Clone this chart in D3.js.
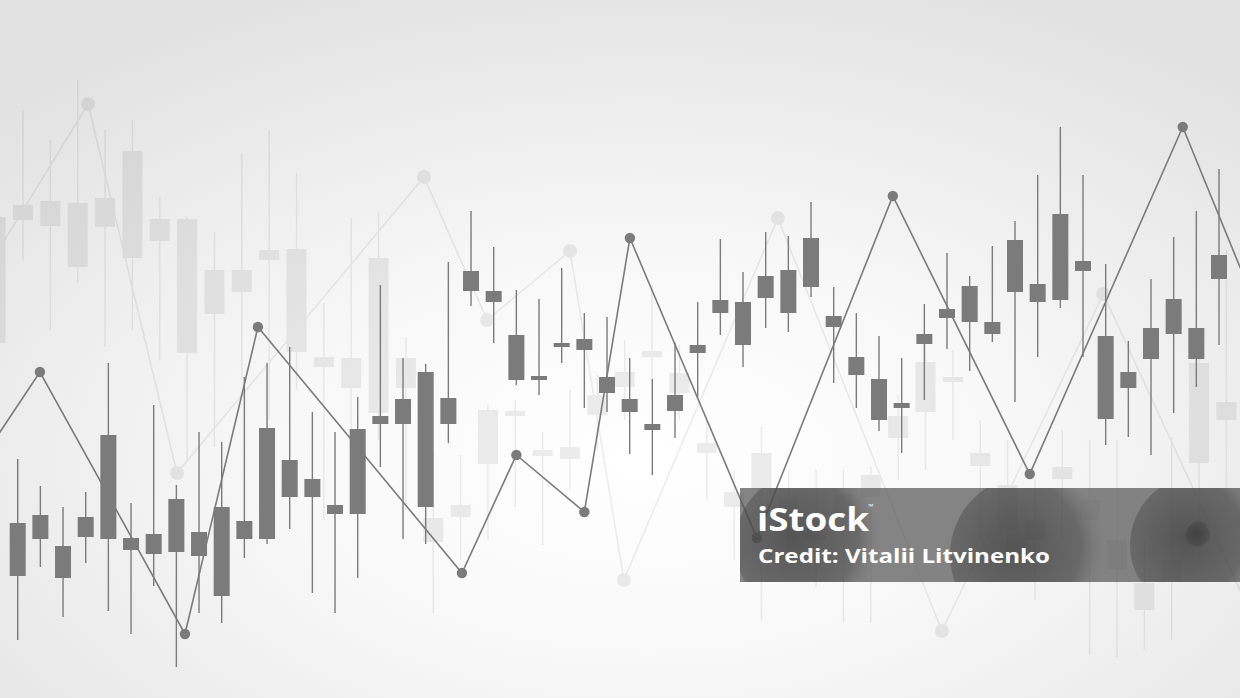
<!DOCTYPE html>
<html>
<head>
<meta charset="utf-8">
<script src="https://cdn.jsdelivr.net/npm/d3@7"></script>
<style>
  html, body { margin: 0; padding: 0; background: #f2f2f2; overflow: hidden; }
  svg { display: block; }
</style>
</head>
<body>
<svg id="chart" width="1240" height="698"></svg>
<script>
// ---------- front candles (price units) ----------
const fgOpen  = [35.4, 37.0, 30.8, 36.6, 53.0, 32.4, 33.2, 40.2, 33.6, 38.6, 35.8, 54.4, 48.0, 44.2, 39.0, 54.2, 56.8, 60.2,
                 65.6, 60.4, 85.8, 81.8, 73.0, 64.8, 71.4, 72.2, 64.6, 60.2, 55.2, 61.0, 71.0, 80.0, 79.6, 84.8, 86.0, 92.4,
                 76.8, 68.6, 64.2, 59.4, 73.2, 78.2, 82.8, 75.6, 92.0, 83.2, 97.2, 87.8, 72.8, 65.6, 74.4, 80.2, 74.4, 89.0];
const fgClose = [24.8, 32.2, 24.4, 32.6, 32.2, 30.0, 29.2, 29.6, 28.8, 20.8, 32.2, 32.2, 40.6, 40.6, 37.2, 37.2, 55.2, 55.2,
                 38.6, 55.2, 81.8, 79.6, 64.0, 64.0, 70.6, 70.0, 61.4, 57.6, 54.0, 57.8, 69.4, 77.4, 71.0, 80.4, 77.4, 82.6,
                 74.6, 65.0, 56.0, 58.4, 71.2, 76.4, 75.6, 73.2, 81.6, 79.6, 80.0, 85.8, 56.2, 62.4, 68.2, 73.2, 68.2, 84.2];
const fgHigh  = [48.2, 42.8, 38.6, 41.6, 67.4, 39.4, 59.0, 43.0, 53.6, 51.6, 64.6, 67.4, 70.6, 57.6, 53.6, 60.6, 83.0, 68.4,
                 67.2, 87.6, 97.8, 90.6, 82.0, 80.2, 86.4, 77.4, 76.6, 68.4, 64.2, 71.4, 79.6, 92.2, 85.6, 93.6, 92.8, 99.6,
                 82.6, 77.4, 72.8, 68.4, 79.2, 89.4, 84.8, 90.8, 95.8, 105.0, 114.6, 105.0, 87.2, 71.8, 84.2, 92.6, 97.8, 106.2];
const fgLow   = [12.0, 26.6, 16.6, 27.4, 17.8, 13.2, 22.8, 6.6, 17.4, 15.4, 28.4, 31.2, 34.2, 21.4, 17.4, 24.4, 46.6, 32.2,
                 31.2, 51.4, 78.8, 71.4, 63.0, 61.0, 67.4, 58.4, 57.6, 49.2, 45.0, 52.4, 60.6, 73.0, 66.6, 74.4, 73.6, 80.6,
                 63.4, 58.4, 53.8, 49.4, 60.0, 70.2, 65.8, 71.6, 59.6, 68.6, 78.4, 68.6, 51.0, 52.6, 49.0, 57.4, 62.6, 71.0];

// front zigzag line (position in candle steps, price)
const fgLineT = [-1.66, 0.98, 7.38, 10.6, 19.6, 22.0, 25.0, 27.01, 32.61, 38.61, 44.65, 51.4, 54.5];
const fgLineP = [47.6, 65.6, 13.2, 74.6, 25.4, 49.0, 37.6, 92.4, 32.4, 100.8, 45.2, 114.6, 80.2];

// ---------- faded back candles ----------
const bgOpen  = [96.6, 99.0, 99.8, 99.4, 100.4, 109.8, 96.2, 96.2, 86.0, 86.0, 90.0, 90.2, 68.6, 68.4, 88.4, 68.4, 36.4, 39.0,
                 58.0, 57.8, 50.0, 50.6, 61.0, 65.6, 69.8, 65.4, 51.4, 41.6, 49.4, 40.0, 36.0, 41.0, 45.0, 56.8, 67.6, 64.6,
                 49.4, 43.0, 36.0, 46.6, 40.0, 32.0, 23.4, 28.0, 67.4, 59.6];
const bgClose = [71.4, 96.0, 94.8, 86.6, 94.6, 88.4, 91.8, 69.4, 77.2, 81.6, 88.0, 69.6, 66.6, 62.4, 57.4, 62.4, 31.6, 36.6,
                 47.2, 56.8, 48.8, 48.2, 57.0, 62.6, 68.6, 61.4, 49.4, 38.6, 42.0, 36.0, 32.0, 37.0, 40.6, 52.4, 57.6, 63.6,
                 46.8, 34.0, 32.0, 44.2, 36.0, 26.0, 18.0, 24.0, 47.4, 56.0];
const bgHigh  = [110.0, 118.0, 112.0, 124.0, 114.0, 116.0, 100.6, 96.6, 93.6, 109.4, 114.0, 105.4, 79.4, 96.4, 97.6, 72.6, 49.4, 49.0,
                 59.2, 60.0, 53.6, 62.0, 65.0, 72.0, 83.0, 71.0, 56.0, 46.0, 54.6, 46.0, 46.0, 46.0, 46.6, 61.0, 72.0, 70.0,
                 56.0, 52.0, 44.0, 54.0, 52.0, 52.0, 32.0, 52.6, 72.0, 90.0];
const bgLow   = [56.0, 88.0, 74.0, 83.4, 70.6, 74.0, 68.0, 48.0, 50.6, 64.0, 56.0, 62.0, 36.0, 48.0, 52.0, 38.0, 17.4, 28.0,
                 32.0, 38.6, 31.0, 42.0, 50.0, 56.0, 60.0, 56.0, 40.0, 28.0, 16.0, 28.0, 22.6, 15.4, 15.4, 44.0, 46.0, 52.0,
                 32.0, 28.0, 20.0, 32.0, 9.0, 8.6, 10.0, 12.0, 28.0, 36.0];

const bgLineT = [-0.21, 3.38, 6.63, 15.66, 17.97, 21.0, 22.97, 28.6, 34.6, 40.5, 45.9];
const bgLineP = [87.2, 119.2, 45.4, 104.6, 76.0, 89.8, 24.0, 96.4, 13.8, 81.2, 17.2];

const width = 1240, height = 698;
const svg = d3.select("#chart");
const defs = svg.append("defs");

// soft radial backdrop
const bgGrad = defs.append("radialGradient")
    .attr("id", "bgGrad").attr("cx", "52%").attr("cy", "66%").attr("r", "72%");
bgGrad.append("stop").attr("offset", "0%").attr("stop-color", "#ffffff");
bgGrad.append("stop").attr("offset", "40%").attr("stop-color", "#f8f8f8");
bgGrad.append("stop").attr("offset", "100%").attr("stop-color", "#e2e2e2");
svg.append("rect").attr("width", width).attr("height", height).attr("fill", "url(#bgGrad)");

const yScale = d3.scaleLinear().domain([0, 140]).range([700, 0]);
const fgX = d3.scaleLinear().domain([0, 53]).range([17.7, 1219]);
const bgX = d3.scaleLinear().domain([0, 45]).range([-4.35, 1226.4]);

const toCandles = (o, c, h, l) => o.map((v, i) => ({i, open: v, close: c[i], high: h[i], low: l[i]}));

const drawCandles = (g, data, x, bodyW, wickW, color) => {
    g.selectAll("line")
        .data(data)
        .join("line")
        .attr("x1", d => x(d.i)).attr("x2", d => x(d.i))
        .attr("y1", d => yScale(d.high)).attr("y2", d => yScale(d.low))
        .attr("stroke", color).attr("stroke-width", wickW);
    g.selectAll("rect")
        .data(data)
        .join("rect")
        .attr("x", d => x(d.i) - bodyW / 2)
        .attr("width", bodyW)
        .attr("y", d => yScale(Math.max(d.open, d.close)))
        .attr("height", d => Math.abs(yScale(d.open) - yScale(d.close)))
        .attr("fill", color);
};

const drawLine = (g, t, p, x, color, w, r) => {
    const pts = t.map((v, i) => [v, p[i]]);
    g.append("path")
        .datum(pts)
        .attr("fill", "none")
        .attr("stroke", color)
        .attr("stroke-width", w)
        .attr("d", d3.line().x(d => x(d[0])).y(d => yScale(d[1])));
    g.selectAll("circle")
        .data(pts.slice(1, -1))
        .join("circle")
        .attr("cx", d => x(d[0])).attr("cy", d => yScale(d[1]))
        .attr("r", r).attr("fill", color);
};

////////////////////////// back layer (flattened, so overlaps don't stack)
const back = svg.append("g").attr("class", "back").attr("opacity", 0.065);
drawCandles(back.append("g"), toCandles(bgOpen, bgClose, bgHigh, bgLow), bgX, 20, 1.4, "#000");
drawLine(back.append("g"), bgLineT, bgLineP, bgX, "#000", 1.5, 7);

////////////////////////// front layer
const front = svg.append("g").attr("class", "front");
drawCandles(front.append("g"), toCandles(fgOpen, fgClose, fgHigh, fgLow), fgX, 16, 1.4, "#7b7b7b");
drawLine(front.append("g"), fgLineT, fgLineP, fgX, "#7b7b7b", 1.6, 5.2);

////////////////////////// credit strip
const wm = {x: 740, y: 488, w: 500, h: 94};
defs.append("clipPath").attr("id", "wmClip")
    .append("rect").attr("x", wm.x).attr("y", wm.y).attr("width", wm.w).attr("height", wm.h);
const ball = defs.append("radialGradient").attr("id", "ball").attr("cx", "40%").attr("cy", "45%").attr("r", "60%");
ball.append("stop").attr("offset", "0%").attr("stop-color", "#2e2e2e").attr("stop-opacity", 0.55);
ball.append("stop").attr("offset", "70%").attr("stop-color", "#3a3a3a").attr("stop-opacity", 0.35);
ball.append("stop").attr("offset", "100%").attr("stop-color", "#888").attr("stop-opacity", 0);

const wmG = svg.append("g").attr("clip-path", "url(#wmClip)");
wmG.append("rect")
    .attr("x", wm.x).attr("y", wm.y).attr("width", wm.w).attr("height", wm.h)
    .attr("fill", "rgba(90,90,90,0.74)");
const balls = [[810, 545, 75], [1030, 555, 80], [1200, 545, 70], [1200, 535, 14]];
wmG.selectAll("circle.ball")
    .data(balls)
    .join("circle")
    .attr("class", "ball")
    .attr("cx", d => d[0]).attr("cy", d => d[1]).attr("r", d => d[2])
    .attr("fill", "url(#ball)");

wmG.append("text")
    .attr("x", 757).attr("y", 531)
    .attr("font-family", "'Open Sans', sans-serif").attr("font-weight", 700)
    .attr("font-size", 33).attr("fill", "#ffffff")
    .attr("textLength", 112).attr("lengthAdjust", "spacingAndGlyphs")
    .text("iStock");
wmG.append("text")
    .attr("x", 868).attr("y", 509)
    .attr("font-family", "'Open Sans', sans-serif").attr("font-size", 7).attr("fill", "#ffffff")
    .text("™");
wmG.append("text")
    .attr("x", 758).attr("y", 563)
    .attr("font-family", "'Open Sans', sans-serif").attr("font-weight", 700)
    .attr("font-size", 20).attr("fill", "#ffffff")
    .attr("textLength", 292).attr("lengthAdjust", "spacingAndGlyphs")
    .text("Credit: Vitalii Litvinenko");
</script>
</body>
</html>
